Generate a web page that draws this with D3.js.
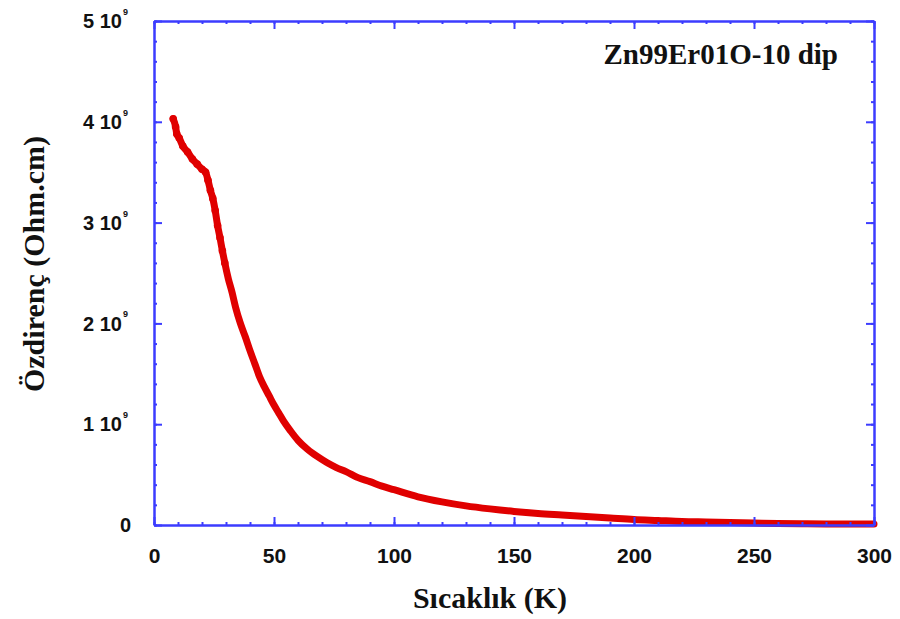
<!DOCTYPE html>
<html>
<head>
<meta charset="utf-8">
<script src="https://cdn.jsdelivr.net/npm/d3@7"></script>
<style>
  html, body { margin: 0; padding: 0; background: #ffffff; }
  svg { display: block; }
</style>
</head>
<body>
<svg id="chart" width="900" height="619"></svg>
<script>
// ---- Data ----
const temperatureK = [8, 9, 9.5, 10.5, 12, 14, 16, 18, 20, 21.5, 22.5, 23.5, 24.5, 25.5, 26.5, 27.5, 28.5, 29.5,
  31, 32.5, 34, 36, 38, 40, 42, 44, 46, 48, 50, 52, 54, 57, 60, 64, 68, 72, 76, 80, 85, 90, 95, 100,
  110, 120, 130, 140, 150, 160, 170, 180, 190, 200, 210, 220, 230, 240, 250, 260, 270, 280, 290, 300];
const resistivity = [4.03, 3.95, 3.88, 3.84, 3.76, 3.70, 3.63, 3.58, 3.53, 3.50, 3.42, 3.32, 3.24, 3.12, 2.97, 2.85, 2.72, 2.60,
  2.44, 2.31, 2.16, 2.00, 1.87, 1.73, 1.60, 1.47, 1.37, 1.28, 1.19, 1.11, 1.03, 0.93, 0.84, 0.75, 0.68, 0.62, 0.57, 0.53, 0.47, 0.43, 0.385, 0.35,
  0.28, 0.23, 0.19, 0.16, 0.135, 0.115, 0.10, 0.085, 0.07, 0.055, 0.045, 0.035, 0.03, 0.025, 0.02, 0.015, 0.012, 0.01, 0.01, 0.01]; // x 10^9 Ohm.cm

const xTicks = [0, 50, 100, 150, 200, 250, 300];
const yTicks = [0, 1, 2, 3, 4, 5];
const yTickMant = ["0", "1 10", "2 10", "3 10", "4 10", "5 10"];
const sampleLabel = "Zn99Er01O-10 dip";
const xTitle = "Sıcaklık (K)";
const yTitle = "Özdirenç (Ohm.cm)";

// ---- Layout ----
const mLeft = 154, mRight = 874, mTop = 21, mBottom = 525;
const axisColor = "#3c3cff";
const red = "#e00000";

const svg = d3.select("#chart");
const x = d3.scaleLinear().domain([0, 300]).range([mLeft, mRight]);
const y = d3.scaleLinear().domain([0, 5]).range([mBottom, mTop]);

const data = temperatureK.map((t, i) => ({ t, v: resistivity[i] }));

// curve band
const line = d3.line().x(d => x(d.t)).y(d => y(d.v)).curve(d3.curveMonotoneX);
svg.append("path").datum(data)
  .attr("d", line).attr("fill", "none")
  .attr("stroke", red).attr("stroke-width", 7)
  .attr("stroke-linejoin", "round").attr("stroke-linecap", "round");
svg.append("g").selectAll("circle").data(data.filter(d => d.t < 30)).join("circle")
  .attr("cx", d => x(d.t)).attr("cy", d => y(d.v)).attr("r", 3.8).attr("fill", red);

// axes (frame + ticks, all inward)
function styleAxis(g) {
  g.selectAll("path.domain").attr("stroke", axisColor).attr("stroke-width", 2);
  g.selectAll(".tick line").attr("stroke", axisColor).attr("stroke-width", 2);
}
const xMinor = d3.range(0, 301, 10);
const yMinor = d3.range(0, 5.01, 0.2);

// minor ticks
svg.append("g").attr("transform", `translate(0,${mBottom})`)
  .call(d3.axisBottom(x).tickValues(xMinor).tickSize(-3).tickSizeOuter(0).tickFormat(""))
  .call(styleAxis);
svg.append("g").attr("transform", `translate(0,${mTop})`)
  .call(d3.axisTop(x).tickValues(xMinor).tickSize(-3).tickSizeOuter(0).tickFormat(""))
  .call(styleAxis);
svg.append("g").attr("transform", `translate(${mLeft},0)`)
  .call(d3.axisLeft(y).tickValues(yMinor).tickSize(-3).tickSizeOuter(0).tickFormat(""))
  .call(styleAxis);
svg.append("g").attr("transform", `translate(${mRight},0)`)
  .call(d3.axisRight(y).tickValues(yMinor).tickSize(-3).tickSizeOuter(0).tickFormat(""))
  .call(styleAxis);

// major ticks
const gx = svg.append("g").attr("transform", `translate(0,${mBottom})`)
  .call(d3.axisBottom(x).tickValues(xTicks).tickSizeInner(-8).tickSizeOuter(0).tickPadding(20).tickFormat(d3.format("d")))
  .call(styleAxis);
gx.selectAll("text").attr("font-family", "'Liberation Sans', Arial, sans-serif")
  .attr("font-weight", "bold").attr("font-size", 21).attr("fill", "#111").attr("dy", "0.85em");
svg.append("g").attr("transform", `translate(0,${mTop})`)
  .call(d3.axisTop(x).tickValues(xTicks).tickSizeInner(-8).tickSizeOuter(0).tickFormat(""))
  .call(styleAxis);
svg.append("g").attr("transform", `translate(${mLeft},0)`)
  .call(d3.axisLeft(y).tickValues(yTicks).tickSizeInner(-8).tickSizeOuter(0).tickFormat(""))
  .call(styleAxis);
svg.append("g").attr("transform", `translate(${mRight},0)`)
  .call(d3.axisRight(y).tickValues(yTicks).tickSizeInner(-8).tickSizeOuter(0).tickFormat(""))
  .call(styleAxis);

// y tick labels with superscript exponent
const yl = svg.append("g").attr("font-family", "'Liberation Sans', Arial, sans-serif")
  .attr("font-weight", "bold").attr("fill", "#111");
yTicks.forEach((v, i) => {
  yl.append("text").attr("x", i === 0 ? 131 : 122).attr("y", y(v)).attr("dy", "0.36em")
    .attr("text-anchor", "end").attr("font-size", 20).text(yTickMant[i]);
  if (i > 0) {
    yl.append("text").attr("x", 123).attr("y", y(v) - 6).attr("font-size", 9).text("9");
  }
});

// titles
svg.append("text").attr("x", 490).attr("y", 608).attr("text-anchor", "middle")
  .attr("font-family", "'Liberation Serif', 'Times New Roman', serif")
  .attr("font-weight", "bold").attr("font-size", 30).attr("fill", "#111").text(xTitle);
svg.append("text").attr("transform", "translate(44,264) rotate(-90)").attr("text-anchor", "middle")
  .attr("font-family", "'Liberation Serif', 'Times New Roman', serif")
  .attr("font-weight", "bold").attr("font-size", 30).attr("fill", "#111").text(yTitle);
svg.append("text").attr("x", 838).attr("y", 64).attr("text-anchor", "end")
  .attr("font-family", "'Liberation Serif', 'Times New Roman', serif")
  .attr("font-weight", "bold").attr("font-size", 29).attr("fill", "#111").text(sampleLabel);
</script>
</body>
</html>
